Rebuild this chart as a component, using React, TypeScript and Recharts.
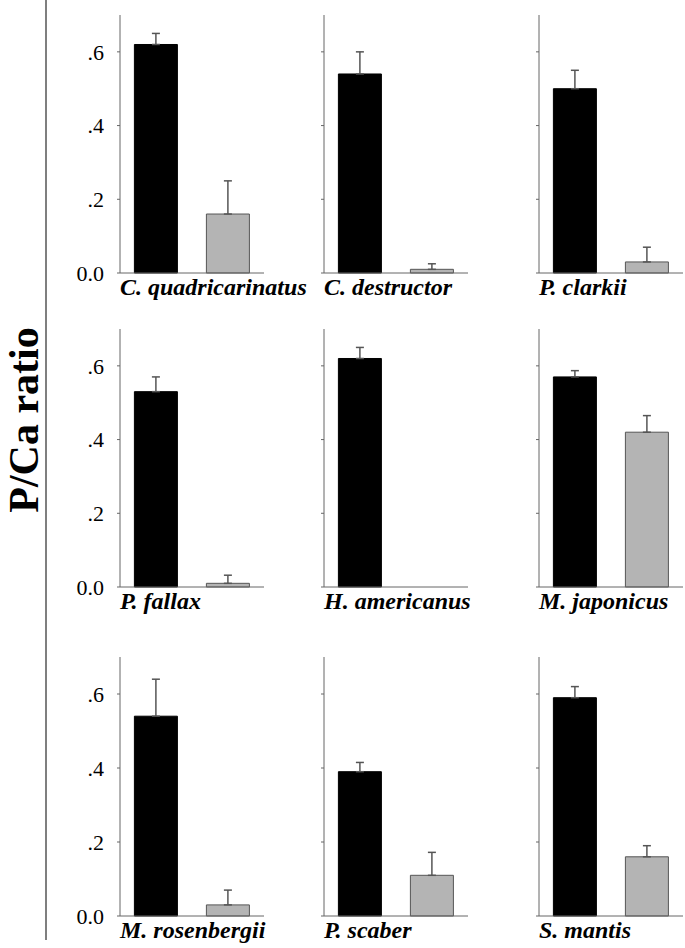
import { BarChart, Bar, Cell, XAxis, YAxis, ErrorBar } from "recharts";

// espécies, na ordem dos painéis (linha a linha)
const species = [
  "C. quadricarinatus",
  "C. destructor",
  "P. clarkii",
  "P. fallax",
  "H. americanus",
  "M. japonicus",
  "M. rosenbergii",
  "P. scaber",
  "S. mantis",
];

// barra preta: média e erro (só para cima)
const blackMeans = [0.62, 0.54, 0.5, 0.53, 0.62, 0.57, 0.54, 0.39, 0.59];
const blackErrors = [0.03, 0.06, 0.05, 0.04, 0.03, 0.017, 0.1, 0.025, 0.03];

// barra cinza: média e erro (H. americanus sem valor)
const grayMeans = [0.16, 0.01, 0.03, 0.01, null, 0.42, 0.03, 0.11, 0.16];
const grayErrors = [0.09, 0.015, 0.04, 0.022, null, 0.045, 0.04, 0.062, 0.03];

const yTicks = [0, 0.2, 0.4, 0.6];

// posições do layout (eixo y de cada coluna, topo/base de cada linha)
const axisX = [120, 324, 539];
const plotTop = [15, 329, 657];
const plotBottom = [273, 587, 916];
const plotWidth = 144;
const yAxisWidth = 60;
const padTop = 5;
const padBottom = 16;

const serif = '"Liberation Serif", "Times New Roman", serif';

const formatTick = (v: number) => (v === 0 ? "0.0" : v.toFixed(1).replace(/^0/, ""));

function Panel({ index }: { index: number }) {
  const col = index % 3;
  const row = Math.floor(index / 3);
  const data = [
    { name: "black", value: blackMeans[index], err: [0, blackErrors[index]] },
    {
      name: "gray",
      value: grayMeans[index],
      err: grayErrors[index] == null ? null : [0, grayErrors[index]],
    },
  ];
  const height = plotBottom[row] - plotTop[row];
  return (
    <>
      <div
        style={{
          position: "absolute",
          left: axisX[col] - yAxisWidth,
          top: plotTop[row] - padTop,
        }}
      >
        <BarChart
          width={yAxisWidth + plotWidth}
          height={height + padTop + padBottom + 2}
          data={data}
          margin={{ top: padTop, right: 0, left: 0, bottom: padBottom }}
          barCategoryGap="20%"
        >
          <XAxis
            dataKey="name"
            tick={false}
            tickLine={false}
            height={2}
            axisLine={{ stroke: "#666" }}
          />
          <YAxis
            domain={[0, 0.7]}
            ticks={yTicks}
            interval={0}
            width={yAxisWidth}
            tickSize={3}
            tickMargin={13}
            tickFormatter={col === 0 ? formatTick : () => ""}
            tick={{ fill: "#000", fontSize: 22, fontFamily: serif }}
            axisLine={{ stroke: "#666" }}
            tickLine={{ stroke: "#666" }}
          />
          <Bar dataKey="value" isAnimationActive={false}>
            {data.map((d) => (
              <Cell
                key={d.name}
                fill={d.name === "black" ? "#000" : "#b4b4b4"}
                stroke={d.name === "black" ? "#000" : "#555"}
              />
            ))}
            <ErrorBar dataKey="err" width={4} stroke="#555" strokeWidth={1.5} direction="y" />
          </Bar>
        </BarChart>
      </div>
      <div
        style={{
          position: "absolute",
          left: axisX[col],
          top: plotBottom[row] + 2,
          fontFamily: serif,
          fontSize: 24,
          lineHeight: "24px",
          fontWeight: "bold",
          fontStyle: "italic",
          whiteSpace: "nowrap",
        }}
      >
        {species[index]}
      </div>
    </>
  );
}

export default function App() {
  return (
    <div
      style={{
        position: "absolute",
        left: 0,
        top: 0,
        width: 685,
        height: 948,
        background: "#fff",
        overflow: "hidden",
        fontFamily: serif,
      }}
    >
      <svg width={60} height={948} style={{ position: "absolute", left: 0, top: 0 }}>
        <line x1={46} y1={0} x2={46} y2={940} stroke="#555" strokeWidth={1.5} />
        <text
          transform="translate(37.5,420) rotate(-90)"
          textAnchor="middle"
          fontFamily={serif}
          fontWeight="bold"
          fontSize={42}
        >
          P/Ca ratio
        </text>
      </svg>
      {species.map((_, i) => (
        <Panel key={i} index={i} />
      ))}
    </div>
  );
}
